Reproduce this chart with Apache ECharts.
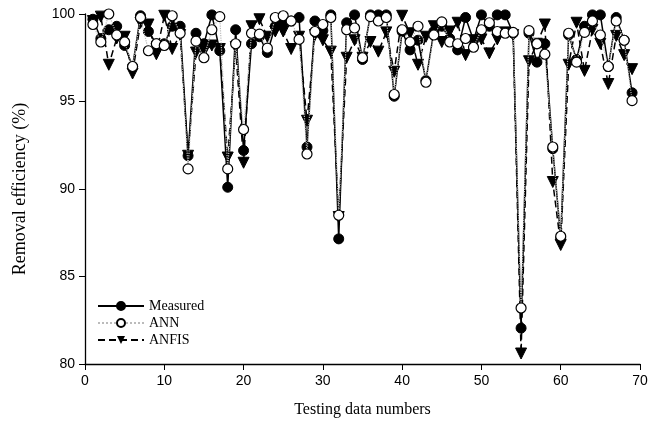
<!DOCTYPE html>
<html><head><meta charset="utf-8">
<script src="https://cdn.jsdelivr.net/npm/echarts@6/dist/echarts.min.js"></script>
<style>html,body{margin:0;padding:0;background:#fff}#c{width:659px;height:425px}</style>
</head><body><div id="c"></div>
<script>
const testNumbers = [1,2,3,4,5,6,7,8,9,10,11,12,13,14,15,16,17,18,19,20,21,22,23,24,25,26,27,28,29,30,31,32,33,34,35,36,37,38,39,40,41,42,43,44,45,46,47,48,49,50,51,52,53,54,55,56,57,58,59,60,61,62,63,64,65,66,67,68,69];
const measured = [99.7,98.6,99.1,99.3,98.2,97.0,99.9,99.0,98.3,98.3,99.3,99.3,91.9,98.9,98.3,99.95,97.9,90.1,99.1,92.2,98.3,98.7,97.8,99.3,99.5,99.6,99.8,92.4,99.6,99.05,99.95,87.15,99.5,99.95,97.4,99.95,99.95,99.95,95.3,99.0,97.95,98.5,96.2,99.0,99.3,98.6,97.95,99.8,98.5,99.95,99.3,99.95,99.95,98.9,82.05,98.9,97.25,98.3,92.3,87.2,98.8,97.4,99.3,99.95,99.95,97.0,99.8,98.5,95.5];
const ann = [99.4,98.4,100,98.8,98.4,97.0,99.8,97.9,98.3,98.2,99.9,98.9,91.15,98.45,97.5,99.1,99.85,91.15,98.3,93.4,98.9,98.85,98.05,99.8,99.9,99.6,98.55,92.0,99.0,99.4,99.8,88.5,99.1,99.2,97.5,99.85,99.6,99.8,95.4,99.1,98.4,99.3,96.1,98.8,99.55,98.4,98.3,98.6,98.1,99.1,99.5,99.0,98.9,98.95,83.2,99.05,98.3,97.7,92.4,87.3,98.9,97.25,98.95,99.6,98.8,97.0,99.6,98.5,95.05];
const anfis = [99.6,99.85,97.1,98.6,98.7,96.6,99.5,99.4,97.7,99.9,98.0,98.8,91.9,97.8,97.85,98.2,98.0,91.8,98.1,91.5,99.3,99.7,98.7,99.0,99.0,98.0,98.7,93.9,98.8,98.5,97.85,88.4,97.5,98.5,97.5,98.4,97.85,98.95,96.7,99.9,98.9,97.1,98.7,99.3,98.4,99.0,99.5,97.65,98.5,98.55,97.75,98.55,98.95,98.8,80.6,97.3,98.3,99.4,90.4,86.8,97.1,99.5,96.75,99.1,98.3,96.0,98.75,97.65,96.85];
const seriesNames = ['Measured','ANN','ANFIS'];
const xTicks = [0,10,20,30,40,50,60,70];
const yTicks = [80,85,90,95,100];

const pairs = arr => testNumbers.map((n,i)=>[n,arr[i]]);
const chart = echarts.init(document.getElementById('c'), null, {renderer:'canvas'});
const serif = '"Liberation Serif","Times New Roman",serif';
const sans = '"Liberation Sans",Arial,sans-serif';
chart.setOption({
  animation:false,
  backgroundColor:'#fff',
  grid:{left:85,right:19,top:14,bottom:61},
  legend:{
    orient:'vertical', left:92, top:294, itemGap:3, itemWidth:46, itemHeight:10,
    textStyle:{fontFamily:serif,fontSize:14,color:'#000'},
    data:seriesNames
  },
  xAxis:{
    type:'value', min:xTicks[0], max:xTicks[xTicks.length-1], interval:10,
    name:'Testing data numbers', nameLocation:'middle', nameGap:38,
    nameTextStyle:{fontFamily:serif,fontSize:16,color:'#000'},
    axisLine:{lineStyle:{color:'#000',width:1.3}},
    axisTick:{length:6,lineStyle:{color:'#000'}},
    axisLabel:{fontFamily:sans,fontSize:14,color:'#000',margin:10},
    splitLine:{show:false}
  },
  yAxis:{
    type:'value', min:yTicks[0], max:yTicks[yTicks.length-1], interval:5,
    name:'Removal efficiency (%)', nameLocation:'middle', nameGap:56,
    nameTextStyle:{fontFamily:serif,fontSize:18,color:'#000'},
    axisLine:{show:true,lineStyle:{color:'#000',width:1.3}},
    axisTick:{show:true,length:6,lineStyle:{color:'#000'}},
    axisLabel:{fontFamily:sans,fontSize:14,color:'#000',margin:10},
    splitLine:{show:false}
  },
  series:[
    {name:seriesNames[0],type:'line',data:pairs(measured),symbol:'circle',symbolSize:10,
     lineStyle:{color:'#000',width:1.5},itemStyle:{color:'#000',borderColor:'#000',borderWidth:1},z:3},
    {name:seriesNames[1],type:'line',data:pairs(ann),symbol:'circle',symbolSize:10,
     lineStyle:{color:'#bbb',width:1.2,type:'dotted'},itemStyle:{color:'#fff',borderColor:'#000',borderWidth:1.2},z:4},
    {name:seriesNames[2],type:'line',data:pairs(anfis),symbol:'triangle',symbolRotate:180,symbolSize:11,
     lineStyle:{color:'#000',width:1.5,type:[7,4]},itemStyle:{color:'#000',borderColor:'#000'},z:2}
  ]
});
</script></body></html>
